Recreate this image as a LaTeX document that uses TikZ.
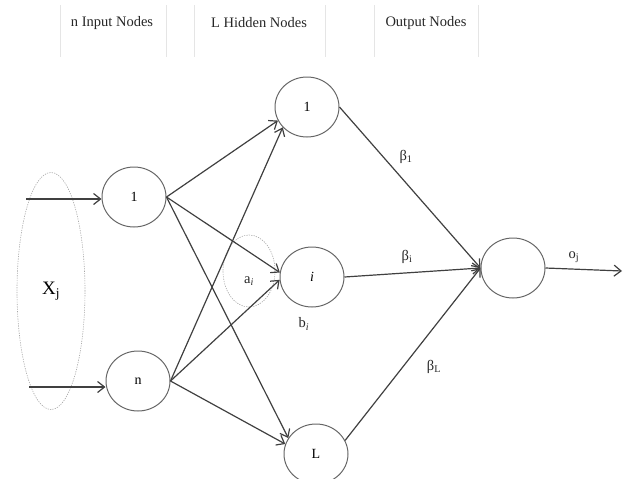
\documentclass[tikz,border=0pt]{standalone}
\usepackage{fontspec}
\setmainfont{Liberation Serif}
\usetikzlibrary{arrows.meta,shapes.geometric}
\begin{document}
\begin{tikzpicture}[x=1pt,y=-1pt,
  neuron/.style={draw=black!60, line width=1pt, ellipse, minimum width=64pt, minimum height=60pt, inner sep=0pt, font=\fontsize{14}{16}\selectfont},
  conn/.style={draw=black!75, line width=1.2pt, -{Straight Barb[length=7pt,width=11pt,line width=1.2pt]}},
  dotring/.style={ellipse, draw=black!35, line width=0.6pt, dash pattern=on 1.2pt off 1.2pt, inner sep=0pt},
  header/.style={font=\fontsize{14.5}{17}\selectfont, text=black!85},
  sep/.style={draw=black!10, line width=0.8pt},
  wlabel/.style={font=\fontsize{14.5}{17}\selectfont, text=black!85}]
\useasboundingbox (0,0) rectangle (624,479);
% header
\foreach \x/\n in {60/a,166/b,194/c,325/d,374/e,478/f}{
  \coordinate (t\n) at (\x,5);
  \coordinate (u\n) at (\x,57);
  \draw[sep] (t\n) -- (u\n);
}
\node[header] (hin) at (112,23) {n Input Nodes};
\node[header] (hhid) at (259,23) {L Hidden Nodes};
\node[header] (hout) at (426,23) {Output Nodes};
% dotted groups
\node[dotring, minimum width=68pt, minimum height=237pt, font=\fontsize{19}{21}\selectfont] (xj) at (51,291) {X\textsubscript{j}};
\node[dotring, minimum width=52pt, minimum height=72pt] (ai) at (249,271) {};
\node[wlabel] (ailab) at (249,281) {a\textsubscript{\textit{i}}};
% neurons
\node[neuron] (in1) at (134,197) {1};
\node[neuron] (inn) at (138,381) {n};
\node[neuron] (h1) at (307,107) {1};
\node[neuron] (hi) at (312,277) {\textit{i}};
\node[neuron] (hL) at (316,454) {L};
\node[neuron] (out) at (513,268) {};
% inputs
\coordinate (s1) at (26,199);
\coordinate (sn) at (29,387);
\draw[conn] (s1) -- (in1.west |- s1);
\draw[conn] (sn) -- (inn.west |- sn);
% input to hidden
\draw[conn] (in1.east) -- (h1.205);
\draw[conn] (in1.east) -- (hi.172);
\draw[conn] (in1.east) -- (hL.150);
\draw[conn] (inn.east) -- (h1.220);
\draw[conn] (inn.east) -- (hi.185);
\draw[conn] (inn.east) -- (hL.162);
% hidden to output
\draw[conn] (h1.east) -- (out.west);
\draw[conn] (hi.east) -- (out.west);
\draw[conn] (hL.25) -- (out.west);
% output
\coordinate (oe) at (622,271);
\draw[conn] (out.east) -- (oe);
% labels
\node[wlabel] (b1) at (406,157) {β\textsubscript{1}};
\node[wlabel] (bi) at (407,257) {β\textsubscript{i}};
\node[wlabel] (bL) at (434,367) {β\textsubscript{L}};
\node[wlabel] (oj) at (574,257) {o\textsubscript{j}};
\node[wlabel] (bilab) at (304,324) {b\textsubscript{\textit{i}}};
\end{tikzpicture}
\end{document}
